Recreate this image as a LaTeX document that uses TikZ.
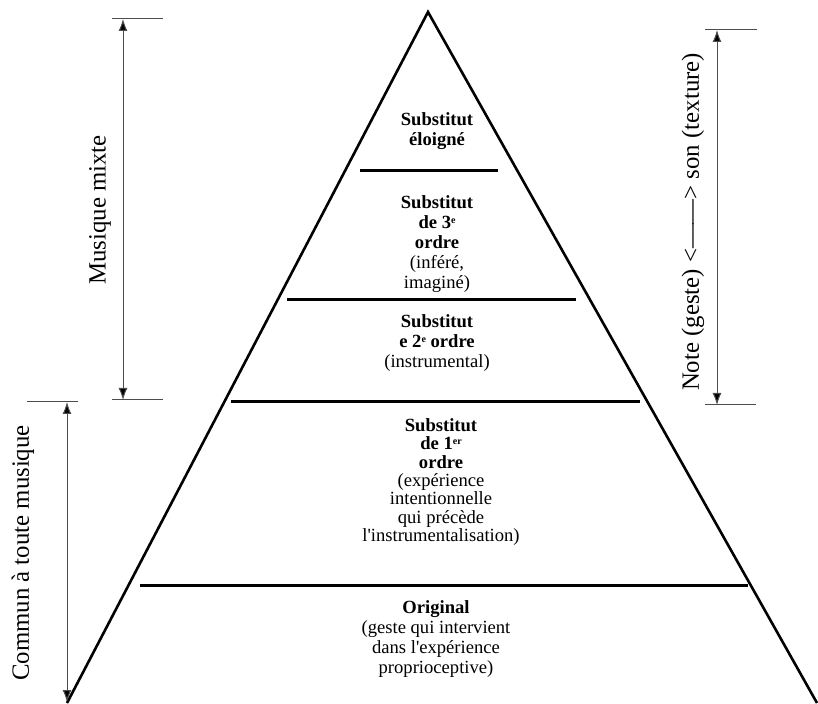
\documentclass[tikz,border=0pt]{standalone}
\usepackage{fontspec}
\setmainfont{Liberation Serif}[Ligatures=TeXOff]
\usetikzlibrary{arrows.meta, positioning, calc}
\newcommand{\supx}[1]{\raisebox{0.55ex}{\fontsize{5}{5}\selectfont #1}}

\begin{document}
\begin{tikzpicture}[x=0.5pt,y=-0.5pt,
    edge/.style={line width=1.3pt},
    level/.style={line width=1.5pt},
    span/.style={line width=0.5pt,draw=black!70,
      {Latex[length=6pt,width=4.5pt,fill=black]}-{Latex[length=6pt,width=4.5pt,fill=black]}},
    limit/.style={line width=0.5pt,draw=black!70},
    txt/.style={align=center,inner sep=0pt,font=\fontsize{9.3}{10}\selectfont},
    side/.style={rotate=90,inner sep=0pt,font=\fontsize{12.4}{14}\selectfont}]
  \useasboundingbox (0,0) rectangle (818,704);

  % pyramid
  \coordinate (apex) at (428,12);
  \coordinate (bl) at (67,703);
  \coordinate (br) at (817,703);
  \draw[edge] (bl)--(apex)--(br);

  % levels
  \draw[level](360,171)--(498,171);
  \draw[level](287,300)--(576,300);
  \draw[level](231,402)--(640,402);
  \draw[level](140,585)--(748,585);

  % texts in the pyramid
  \node[txt] (remote) at (437,131)
    {\textbf{Substitut}\\\textbf{éloigné}};
  \node[txt] (third) at (437,244)
    {\textbf{Substitut}\\\textbf{de 3\supx{e}}\\\textbf{ordre}\\(inféré,\\imaginé)};
  \node[txt] (second) at (437,343)
    {\textbf{Substitut}\\\textbf{e 2\supx{e} ordre}\\(instrumental)};
  \node[txt,font=\fontsize{9.3}{9.2}\selectfont] (first) at (441,482)
    {\textbf{Substitut}\\\textbf{de 1\supx{er}}\\\textbf{ordre}\\(expérience\\intentionnelle\\qui précède\\l'instrumentalisation)};
  \node[txt] (orig) at (436,639)
    {\textbf{Original}\\(geste qui intervient\\dans l'expérience\\proprioceptive)};

  % left: musique mixte
  \coordinate (mixtop) at (123,19);
  \coordinate (mixbot) at (123,400);
  \draw[limit] (112,19)--(163,19);
  \draw[limit] (112,400)--(163,400);
  \draw[span] (mixtop)--(mixbot);
  \node[side] (mixlbl) at (100,210) {Musique mixte};

  % left: commun
  \coordinate (comtop) at (67,402);
  \coordinate (combot) at (67,702);
  \draw[limit] (27,402)--(78,402);
  \draw[span] (comtop)--(combot);
  \node[side] (comlbl) at (23,553) {Commun à toute musique};

  % right: note / son
  \coordinate (notetop) at (717,30);
  \coordinate (notebot) at (717,405);
  \draw[limit] (705,30)--(757,30);
  \draw[limit] (705,405)--(756,405);
  \draw[span] (notetop)--(notebot);
  \node[side] (notelbl) at (693,222) {Note (geste) <——> son (texture)};
\end{tikzpicture}
\end{document}
